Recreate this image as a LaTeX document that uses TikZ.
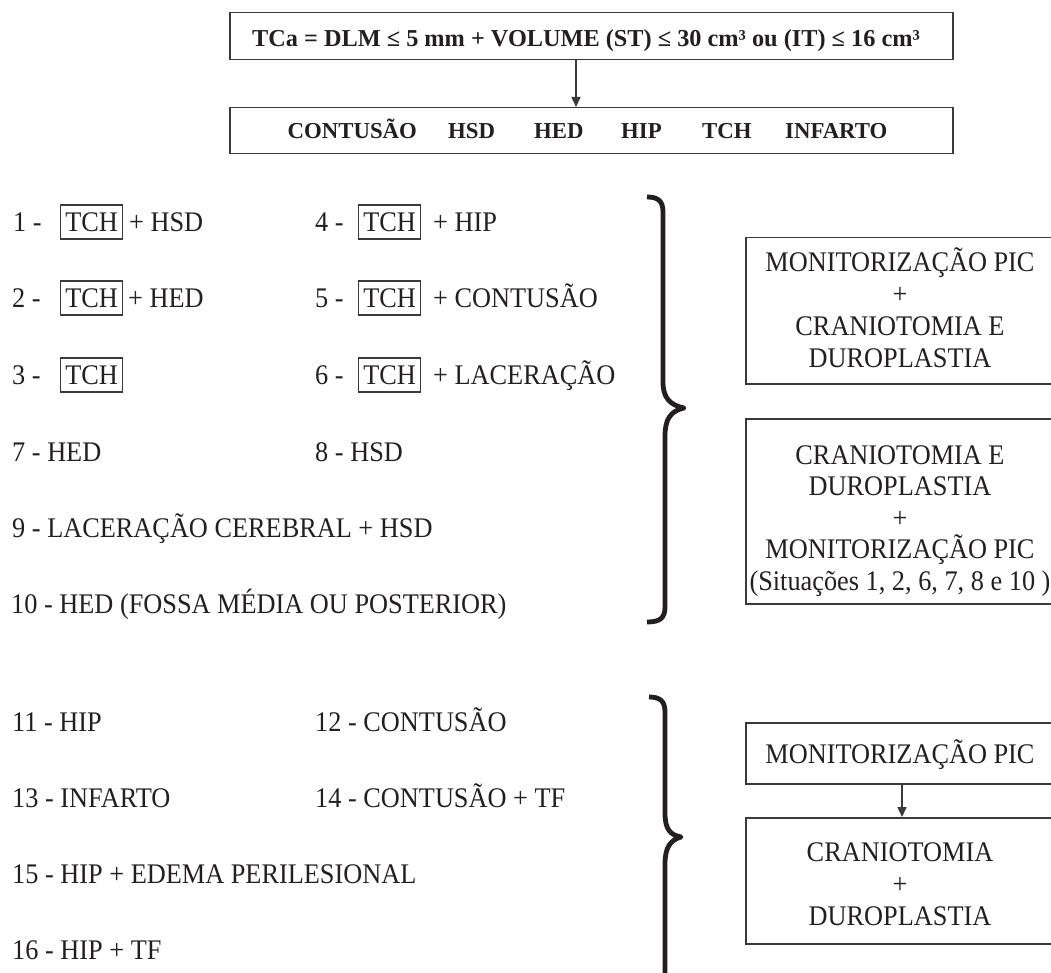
\documentclass[tikz,border=0pt]{standalone}
\usepackage{graphicx}
\usepackage{fontspec}
\setmainfont{Liberation Serif}
\usetikzlibrary{arrows.meta}
\definecolor{ink}{HTML}{231F20}
\definecolor{frame}{HTML}{3A3A3A}
% slightly tall setting of the plain text
\newcommand{\tl}[1]{\scalebox{1}[1.08]{#1}}
\tikzset{
  lbl/.style={anchor=base west, inner sep=0pt, text=ink, font=\fontsize{26.3}{30}\selectfont},
  ctr/.style={anchor=base, inner sep=0pt, text=ink, font=\fontsize{26.3}{30}\selectfont},
  bigbold/.style={anchor=base, inner sep=0pt, text=ink, font=\fontsize{24.3}{28}\selectfont\bfseries},
  hdr/.style={anchor=base west, inner sep=0pt, text=ink, font=\fontsize{22.8}{26}\selectfont\bfseries},
  tagbox/.style={draw=frame, line width=1.2pt, anchor=west, inner xsep=4.7pt, inner ysep=7.6pt,
    text depth=0pt, text=ink, font=\fontsize{26.3}{30}\selectfont},
  frm/.style={draw=frame, line width=1.5pt, inner sep=0pt, anchor=north west},
  arr/.style={draw=frame, line width=1.5pt, -{Triangle[length=10pt,width=9pt]}},
  brc/.style={draw=ink, line width=4.8pt, line join=round}
}
\begin{document}
\begin{tikzpicture}[x=1pt, y=-1pt]
\useasboundingbox (0,0) rectangle (1051,973);
\clip (0,0) rectangle (1051,973);

% criterion box and lesion list
\node[frm, minimum width=723pt, minimum height=47pt] (crit) at (229,12) {};
\node[bigbold] (critT) at (586,47) {TCa = DLM ≤ 5 mm + VOLUME (ST) ≤ 30 cm³ ou (IT) ≤ 16 cm³};
\node[frm, minimum width=723pt, minimum height=46pt] (les) at (229,107) {};
\node[hdr] (l1) at (287.5,139) {CONTUSÃO};
\node[hdr] (l2) at (448,139) {HSD};
\node[hdr] (l3) at (534,139) {HED};
\node[hdr] (l4) at (621,139) {HIP};
\node[hdr] (l5) at (702,139) {TCH};
\node[hdr] (l6) at (785,139) {INFARTO};
\coordinate (ax) at (576,0);
\draw[arr] (crit.south -| ax) -- (les.north -| ax);

% first group of situations
\node[lbl] (s1) at (13,231.4) {\tl{1 -}};
\node[tagbox] (s1b) at (60,222) {\tl{TCH}};
\node[lbl] (s1t) at (129,231.4) {\tl{+ HSD}};
\node[lbl] (s4) at (315,231.4) {\tl{4 -}};
\node[tagbox] (s4b) at (358,222) {\tl{TCH}};
\node[lbl] (s4t) at (433,231.4) {\tl{+ HIP}};

\node[lbl] (s2) at (12,307.4) {\tl{2 -}};
\node[tagbox] (s2b) at (60,298) {\tl{TCH}};
\node[lbl] (s2t) at (128,307.4) {\tl{+ HED}};
\node[lbl] (s5) at (315,307.4) {\tl{5 -}};
\node[tagbox] (s5b) at (358,298) {\tl{TCH}};
\node[lbl] (s5t) at (433,307.4) {\tl{+ CONTUSÃO}};

\node[lbl] (s3) at (12,384.4) {\tl{3 -}};
\node[tagbox] (s3b) at (60,375) {\tl{TCH}};
\node[lbl] (s6) at (315,384.4) {\tl{6 -}};
\node[tagbox] (s6b) at (358,375) {\tl{TCH}};
\node[lbl] (s6t) at (433,384.4) {\tl{+ LACERAÇÃO}};

\node[lbl] (s7) at (12,461.4) {\tl{7 - HED}};
\node[lbl] (s8) at (315,461.4) {\tl{8 - HSD}};
\node[lbl] (s9) at (12,537.4) {\tl{9 - LACERAÇÃO CEREBRAL + HSD}};
\node[lbl] (s10) at (11,613.4) {\tl{10 - HED (FOSSA MÉDIA OU POSTERIOR)}};

% second group of situations
\node[lbl] (s11) at (12,731.4) {\tl{11 - HIP}};
\node[lbl] (s12) at (315,731.4) {\tl{12 - CONTUSÃO}};
\node[lbl] (s13) at (12,807.4) {\tl{13 - INFARTO}};
\node[lbl] (s14) at (315,807.4) {\tl{14 - CONTUSÃO + TF}};
\node[lbl] (s15) at (12,883.4) {\tl{15 - HIP + EDEMA PERILESIONAL}};
\node[lbl] (s16) at (12,959.4) {\tl{16 - HIP + TF}};

% braces
\draw[brc] (647,197) .. controls (658,197) and (663,201) .. (663,212) -- (663,382)
  .. controls (663,398) and (670,405) .. (684,408)
  .. controls (670,411) and (665,420) .. (665,436) -- (665,607)
  .. controls (665,618) and (660,622) .. (647,622);
\draw[brc] (649,697) .. controls (660,697) and (665,701) .. (665,712) -- (665,813)
  .. controls (665,829) and (670,835) .. (681,837)
  .. controls (670,840) and (665,848) .. (665,864) -- (665,990);

% conduct boxes
\node[frm, minimum width=311pt, minimum height=146pt] (bA) at (745,237) {};
\node[ctr] (a1) at (900,271.4) {\tl{MONITORIZAÇÃO PIC}};
\node[ctr] (a2) at (900,303.4) {\tl{+}};
\node[ctr] (a3) at (900,335.4) {\tl{CRANIOTOMIA E}};
\node[ctr] (a4) at (900,367.4) {\tl{DUROPLASTIA}};

\node[frm, minimum width=311pt, minimum height=185pt] (bB) at (745,418) {};
\node[ctr] (b1) at (900,464.4) {\tl{CRANIOTOMIA E}};
\node[ctr] (b2) at (900,495.9) {\tl{DUROPLASTIA}};
\node[ctr] (b3) at (900,527.4) {\tl{+}};
\node[ctr] (b4) at (900,558.9) {\tl{MONITORIZAÇÃO PIC}};
\node[ctr] (b5) at (900,590.4) {\tl{(Situações 1, 2, 6, 7, 8 e 10 )}};

\node[frm, minimum width=311pt, minimum height=61pt] (bC) at (745,722) {};
\node[ctr] (c1) at (900,763.4) {\tl{MONITORIZAÇÃO PIC}};
\node[frm, minimum width=311pt, minimum height=126pt] (bD) at (745,817) {};
\node[ctr] (d1) at (900,861.4) {\tl{CRANIOTOMIA}};
\node[ctr] (d2) at (900,893.4) {\tl{+}};
\node[ctr] (d3) at (900,925.4) {\tl{DUROPLASTIA}};
\coordinate (cx) at (902,0);
\draw[arr] (bC.south -| cx) -- (bD.north -| cx);
\end{tikzpicture}
\end{document}
